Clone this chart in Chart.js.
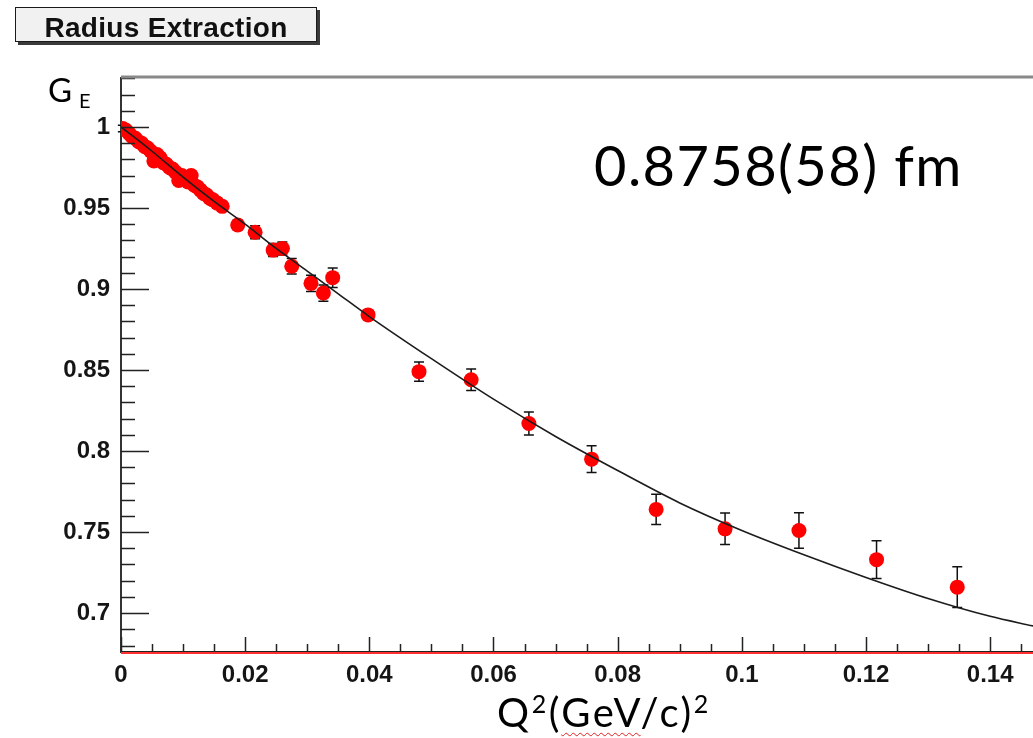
<!DOCTYPE html>
<html>
<head>
<meta charset="utf-8">
<script src="https://cdn.jsdelivr.net/npm/chart.js@4.4.0/dist/chart.umd.min.js"></script>
<style>
    body { margin: 0; background: #fff; }
    #wrap { position: relative; width: 1033px; height: 738px; overflow: hidden; }
    #c { position: absolute; left: 0; top: 0; }
    .title-box {
        position: absolute; left: 15px; top: 7px; width: 300px; height: 33px;
        background: #f1f1f1; border: 1.5px solid #1a1a1a; box-shadow: 3px 3px 0 #3a3a3a;
        font: bold 28px "Liberation Sans", Arial, sans-serif; color: #111;
        text-align: center; line-height: 39px; letter-spacing: 0.3px; overflow: hidden;
    }
    .fit-text {
        position: absolute; left: 594px; top: 137px;
        font: 56px Lato, sans-serif; line-height: 1; color: #000; white-space: nowrap;
        letter-spacing: 1.4px;
    }
    .y-title {
        position: absolute; left: 48px; top: 73px;
        font: 33px Lato, sans-serif; line-height: 1; color: #000; white-space: nowrap;
    }
    .y-title sub { font-size: 20px; vertical-align: -6px; margin-left: 7px; line-height: 0; }
    .x-title {
        position: absolute; left: 497px; top: 692px;
        font: 40px Lato, sans-serif; line-height: 1; color: #000; white-space: nowrap;
        letter-spacing: 2.6px;
    }
    .x-title sup { font-size: 25px; vertical-align: 14px; line-height: 0; }
    .wavy { text-decoration: underline wavy #e02020; text-decoration-thickness: 1px; text-underline-offset: 5px; }
</style>
</head>
<body>
<div id="wrap">
    <canvas id="c" width="1033" height="738"></canvas>
    <div class="title-box">Radius Extraction</div>
    <div class="fit-text">0.8758(58) fm</div>
    <div class="y-title">G<sub>E</sub></div>
    <div class="x-title">Q<sup>2</sup>(<span class="wavy">GeV</span>/c)<sup>2</sup></div>
</div>
<script>
// measured G_E points, Q^2 in (GeV/c)^2
const q2 = [
    0.0003, 0.0008, 0.0013, 0.0018, 0.0023, 0.0028, 0.0033, 0.0038, 0.0043, 0.0048,
    0.0053, 0.0058, 0.0063, 0.0068, 0.0073, 0.0078, 0.0083, 0.0088, 0.0093, 0.0098,
    0.0103, 0.0108, 0.0113, 0.0118, 0.0123, 0.0128, 0.0133, 0.0138, 0.0143, 0.0148,
    0.0155, 0.0163,
    0.0188, 0.0216, 0.0245, 0.0260, 0.0275, 0.0306, 0.0326, 0.0341, 0.0398,
    0.0480, 0.0564, 0.0657, 0.0758, 0.0862, 0.0973, 0.1092, 0.1217, 0.1347
];
const ge = [
    0.999, 0.998, 0.996, 0.994, 0.993, 0.991, 0.990, 0.988, 0.987, 0.985,
    0.979, 0.983, 0.981, 0.978, 0.977, 0.975, 0.974, 0.972, 0.967, 0.970,
    0.968, 0.966, 0.970, 0.964, 0.963, 0.961, 0.959, 0.958, 0.956, 0.955,
    0.953, 0.951,
    0.9395, 0.935, 0.924, 0.925, 0.914, 0.9035, 0.8975, 0.907, 0.884,
    0.849, 0.844, 0.817, 0.795, 0.764, 0.752, 0.751, 0.733, 0.716
];
const geErr = [
    0.002, 0.002, 0.002, 0.002, 0.002, 0.002, 0.002, 0.002, 0.002, 0.002,
    0.002, 0.002, 0.002, 0.002, 0.002, 0.002, 0.002, 0.002, 0.002, 0.002,
    0.002, 0.002, 0.002, 0.002, 0.002, 0.002, 0.002, 0.002, 0.002, 0.002,
    0.003, 0.003,
    0.003, 0.004, 0.004, 0.004, 0.0048, 0.005, 0.005, 0.006, 0.003,
    0.0059, 0.0067, 0.0071, 0.0083, 0.0093, 0.0097, 0.011, 0.0117, 0.0126
];

// fit curve
const fitQ2 = [0, 0.005, 0.01, 0.015, 0.02, 0.025, 0.03, 0.035, 0.04, 0.05,
    0.06, 0.07, 0.08, 0.09, 0.10, 0.11, 0.12, 0.13, 0.14, 0.147];
const fitGe = [1.0, 0.985, 0.969, 0.954, 0.940, 0.925, 0.911, 0.897, 0.883, 0.857,
    0.832, 0.809, 0.788, 0.768, 0.751, 0.736, 0.722, 0.709, 0.698, 0.692];

const xTicks = [0, 0.02, 0.04, 0.06, 0.08, 0.1, 0.12, 0.14];
const yTicks = [0.7, 0.75, 0.8, 0.85, 0.9, 0.95, 1];

const X_MIN = 0, X_MAX = 0.1469;
const Y_MIN = 0.676, Y_MAX = 1.0302;

const tickFont = { family: '"Liberation Sans", Arial, sans-serif', size: 24, weight: 'bold' };

// ROOT style frame: ticks inside, top frame line, red line on the bottom axis
const framePlugin = {
    id: 'frame',
    afterDatasetsDraw(chart) {
        const ctx = chart.ctx;
        const a = chart.chartArea;
        const xs = chart.scales.x;
        const ys = chart.scales.y;
        ctx.save();
        ctx.strokeStyle = '#222';
        ctx.lineWidth = 1.5;
        ctx.beginPath();
        for (let i = 68; i <= 103; i++) {
            const py = Math.round(ys.getPixelForValue(i / 100)) + 0.5;
            const len = i % 5 === 0 ? 28 : 14;
            ctx.moveTo(a.left, py);
            ctx.lineTo(a.left + len, py);
        }
        for (let i = 0; i <= 29; i++) {
            const px = Math.round(xs.getPixelForValue(i * 0.005)) + 0.5;
            const len = i % 4 === 0 ? 15 : 8;
            ctx.moveTo(px, a.bottom);
            ctx.lineTo(px, a.bottom - len);
        }
        ctx.stroke();

        ctx.strokeStyle = '#888';
        ctx.lineWidth = 3;
        ctx.beginPath();
        ctx.moveTo(a.left, a.top - 1);
        ctx.lineTo(a.right, a.top - 1);
        ctx.stroke();

        ctx.strokeStyle = '#222';
        ctx.lineWidth = 2;
        ctx.beginPath();
        ctx.moveTo(a.left, a.bottom);
        ctx.lineTo(a.right, a.bottom);
        ctx.stroke();
        ctx.strokeStyle = '#ff3030';
        ctx.lineWidth = 2;
        ctx.beginPath();
        ctx.moveTo(a.left, a.bottom + 1);
        ctx.lineTo(a.right, a.bottom + 1);
        ctx.stroke();
        ctx.restore();
    }
};

const errorBarPlugin = {
    id: 'errorBars',
    beforeDatasetsDraw(chart) {
        const ctx = chart.ctx;
        const xs = chart.scales.x;
        const ys = chart.scales.y;
        ctx.save();
        ctx.strokeStyle = '#111';
        ctx.lineWidth = 1.5;
        ctx.beginPath();
        for (let i = 0; i < q2.length; i++) {
            const px = xs.getPixelForValue(q2[i]);
            const top = ys.getPixelForValue(ge[i] + geErr[i]);
            const bot = ys.getPixelForValue(ge[i] - geErr[i]);
            ctx.moveTo(px, top);
            ctx.lineTo(px, bot);
            ctx.moveTo(px - 5, top);
            ctx.lineTo(px + 5, top);
            ctx.moveTo(px - 5, bot);
            ctx.lineTo(px + 5, bot);
        }
        ctx.stroke();
        ctx.restore();
    }
};

new Chart(document.getElementById('c'), {
    type: 'scatter',
    data: {
        datasets: [
            {
                label: 'fit',
                data: fitQ2.map((x, i) => ({ x: x, y: fitGe[i] })),
                showLine: true,
                borderColor: '#1c1c1c',
                borderWidth: 1.6,
                pointRadius: 0,
                cubicInterpolationMode: 'monotone',
                order: 0
            },
            {
                label: 'data',
                data: q2.map((x, i) => ({ x: x, y: ge[i] })),
                backgroundColor: '#ff0000',
                borderWidth: 0,
                pointRadius: 7.5,
                order: 1
            }
        ]
    },
    options: {
        responsive: false,
        animation: false,
        devicePixelRatio: 1,
        layout: { autoPadding: false, padding: { top: 78, left: 0, right: 0, bottom: 0 } },
        plugins: {
            legend: { display: false },
            tooltip: { enabled: false }
        },
        scales: {
            x: {
                type: 'linear',
                min: X_MIN,
                max: X_MAX,
                afterFit: s => { s.height = 86; s.paddingLeft = 0; s.paddingRight = 0; },
                afterBuildTicks: s => { s.ticks = xTicks.map(v => ({ value: v })); },
                grid: { display: false, drawTicks: false },
                border: { display: false },
                ticks: {
                    padding: 9,
                    autoSkip: false,
                    maxRotation: 0,
                    color: '#151515',
                    font: tickFont,
                    callback: v => String(Number(v.toFixed(3)))
                }
            },
            y: {
                type: 'linear',
                min: Y_MIN,
                max: Y_MAX,
                afterFit: s => { s.width = 121; s.paddingTop = 0; s.paddingBottom = 0; },
                afterBuildTicks: s => { s.ticks = yTicks.map(v => ({ value: v })); },
                grid: { display: false, drawTicks: false },
                border: { display: true, color: '#333', width: 2 },
                ticks: {
                    padding: 11,
                    autoSkip: false,
                    color: '#151515',
                    font: tickFont,
                    callback: v => String(Number(v.toFixed(3)))
                }
            }
        }
    },
    plugins: [errorBarPlugin, framePlugin]
});
</script>
</body>
</html>
